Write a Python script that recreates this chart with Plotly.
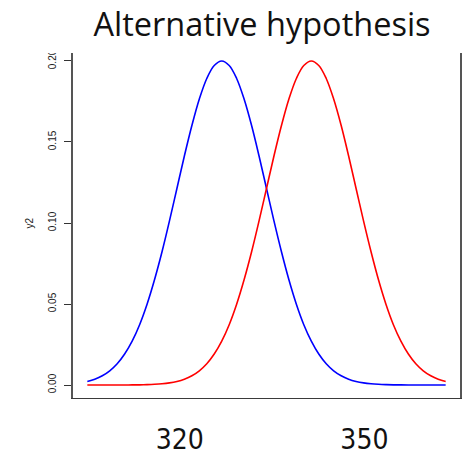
import plotly.graph_objects as go

# Density curves sampled on a common grid (x in score units, y = density height)
x_vals = [305.00, 306.21, 307.43, 308.64, 309.85, 311.06, 312.28, 313.49, 314.70, 315.91,
          317.13, 318.34, 319.55, 320.76, 321.98, 323.19, 324.40, 325.61, 326.83, 328.04,
          329.25, 330.46, 331.68, 332.89, 334.10, 335.31, 336.53, 337.74, 338.95, 340.16,
          341.38, 342.59, 343.80, 345.01, 346.23, 347.44, 348.65, 349.86, 351.08, 352.29,
          353.50, 354.71, 355.93, 357.14, 358.35, 359.56, 360.78, 361.99, 363.20]
null_y = [0.00222, 0.00361, 0.00571, 0.00879, 0.01315, 0.01913, 0.02707, 0.03725, 0.04987, 0.06493,
          0.08222, 0.10127, 0.12131, 0.14133, 0.16015, 0.17650, 0.18919, 0.19724, 0.20000, 0.19724,
          0.18919, 0.17650, 0.16015, 0.14133, 0.12131, 0.10127, 0.08222, 0.06493, 0.04987, 0.03725,
          0.02707, 0.01913, 0.01315, 0.00879, 0.00571, 0.00361, 0.00222, 0.00133, 0.00077, 0.00044,
          0.00024, 0.00013, 0.00007, 0.00003, 0.00002, 0.00001, 0.00000, 0.00000, 0.00000]
alt_y = [0.00000, 0.00000, 0.00000, 0.00001, 0.00002, 0.00003, 0.00007, 0.00013, 0.00024, 0.00044,
         0.00077, 0.00133, 0.00222, 0.00361, 0.00571, 0.00879, 0.01315, 0.01913, 0.02707, 0.03725,
         0.04987, 0.06493, 0.08222, 0.10127, 0.12131, 0.14133, 0.16015, 0.17650, 0.18919, 0.19724,
         0.20000, 0.19724, 0.18919, 0.17650, 0.16015, 0.14133, 0.12131, 0.10127, 0.08222, 0.06493,
         0.04987, 0.03725, 0.02707, 0.01913, 0.01315, 0.00879, 0.00571, 0.00361, 0.00222]

x_ticks = [320, 350]
y_ticks = [0.00, 0.05, 0.10, 0.15, 0.20]

W, H = 464, 453
ML, MR, MT, MB = 72.5, 4, 48, 55

fig = go.Figure()
fig.add_trace(go.Scatter(x=x_vals, y=null_y, mode="lines",
                         line=dict(color="#0000FF", width=1.6, shape="spline"),
                         showlegend=False, hoverinfo="skip"))
fig.add_trace(go.Scatter(x=x_vals, y=alt_y, mode="lines",
                         line=dict(color="#FF0000", width=1.6, shape="spline"),
                         showlegend=False, hoverinfo="skip"))

# R-style 4% padding on both axes
xr = x_vals[-1] - x_vals[0]
x_range = [x_vals[0] - 0.04 * xr, x_vals[-1] + 0.04 * xr]
y_range = [-0.04 * 0.2, 0.2 + 0.04 * 0.2]

plot_w = W - ML - MR
plot_h = H - MT - MB
top_cut = 1 - (53 - MT) / plot_h  # frame lines stop just under the title band

shapes = [
    # white band over the top edge of the panel
    dict(type="rect", xref="paper", yref="paper", x0=-ML / plot_w, x1=1 + MR / plot_w,
         y0=top_cut, y1=1 + MT / plot_h, fillcolor="white", line=dict(width=0),
         layer="above"),
]

fig.update_layout(
    width=W, height=H,
    margin=dict(l=ML, r=MR, t=MT, b=MB, autoexpand=False),
    paper_bgcolor="white", plot_bgcolor="white",
    title=dict(text="Alternative hypothesis", x=262 / W, xanchor="center",
               y=1 - 25 / H, yanchor="middle", yref="container",
               font=dict(family="Open Sans, Lato, sans-serif", size=32.5, color="#111111")),
    xaxis=dict(range=x_range, tickvals=x_ticks, ticktext=[str(v) for v in x_ticks],
               showgrid=False, zeroline=False, showline=True, linecolor="#3a3a3a",
               linewidth=1.3, ticks="",
               tickfont=dict(family="Liberation Sans Narrow, DejaVu Sans Condensed, Lato, sans-serif",
                             size=28, color="#111111"),
               ticklabelstandoff=16),
    yaxis=dict(range=y_range, tickvals=y_ticks, ticktext=[f"{v:.2f}" for v in y_ticks],
               showgrid=False, zeroline=False, showline=True, mirror=True,
               linecolor="#555555", linewidth=1.5,
               ticks="outside", ticklen=7, tickwidth=1, tickcolor="#333333",
               tickangle=-90, ticklabelstandoff=4,
               tickfont=dict(family="Liberation Sans, Arial, sans-serif", size=10,
                             color="#222222")),
    shapes=shapes,
    annotations=[dict(text="y2", xref="paper", yref="y", x=0, y=0.1,
                      xanchor="center", yanchor="middle", xshift=28 - ML,
                      textangle=-90, showarrow=False,
                      font=dict(family="Liberation Sans, Arial, sans-serif", size=10,
                                color="#222222"))],
)

fig.write_html("out.html")
